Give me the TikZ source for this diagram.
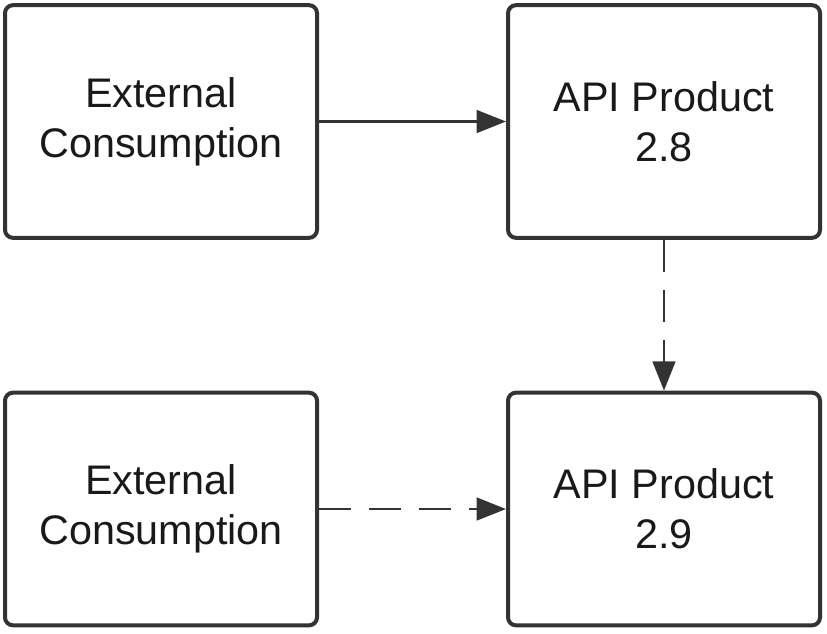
\documentclass[tikz,border=0pt]{standalone}
\usepackage{fontspec}
\setmainfont{Liberation Sans}
\usetikzlibrary{arrows.meta}
\definecolor{edge}{HTML}{333333}
\begin{document}
\begin{tikzpicture}[x=0.75pt,y=-0.75pt,
  box/.style={draw=edge,line width=3pt,rounded corners=6pt,minimum width=234pt,minimum height=174.5pt,
    align=center,font=\fontsize{31}{37.5}\selectfont,text=black!90},
  conn/.style={draw=edge,line width=1.9pt,-{Triangle[length=22pt,width=17pt]}},
  dashpat/.style={dash pattern=on 24pt off 13.5pt}]
\useasboundingbox (0,0) rectangle (827,633);
\node[box] (ec1) at (161,121.5) {External\\Consumption};
\node[box] (ap1) at (664,121.5) {API Product\\2.8};
\node[box] (ec2) at (161,509) {External\\Consumption};
\node[box] (ap2) at (664,509) {API Product\\2.9};
\draw[conn] (ec1.east) -- (ap1.west);
\draw[conn,dashpat] (ap1.south) -- (ap2.north);
\draw[conn,dashpat] (ec2.east) -- (ap2.west);
\end{tikzpicture}
\end{document}
